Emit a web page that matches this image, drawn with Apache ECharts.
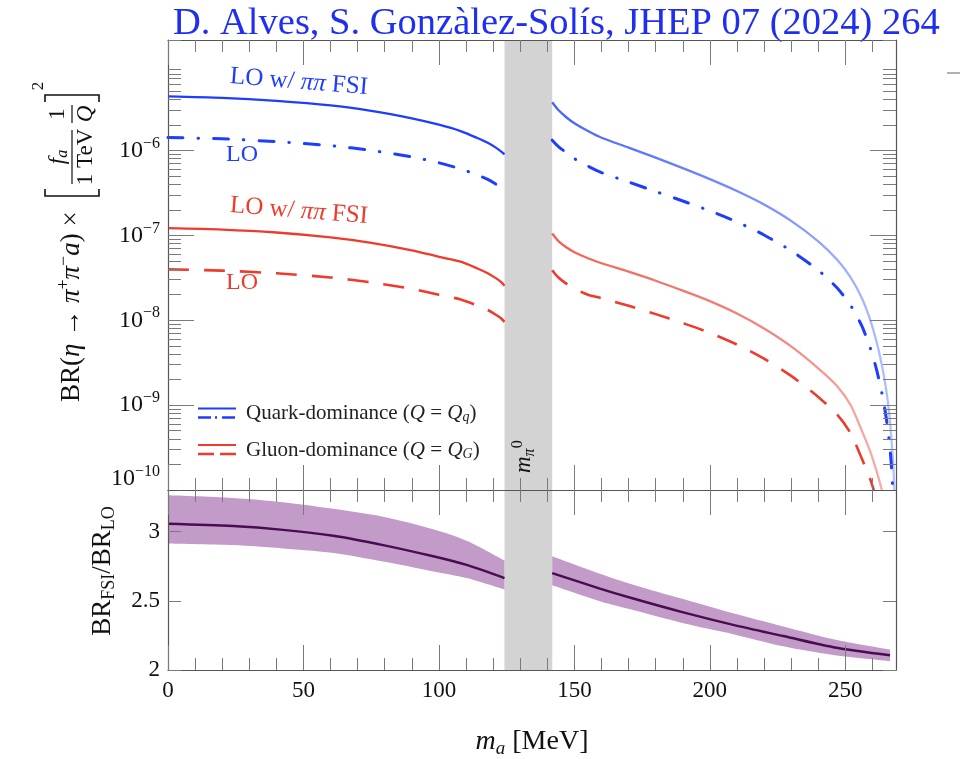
<!DOCTYPE html>
<html><head><meta charset="utf-8">
<script src="https://cdn.jsdelivr.net/npm/echarts@6/dist/echarts.min.js"></script>
<style>html,body{margin:0;padding:0;background:#fff}#c{width:960px;height:759px}</style>
</head><body><div id="c"></div>
<script>
// ---------------- data ----------------
const xMax = 268.7;
const pionBand = [124.2, 141.8];
const xMajorTicks = [0, 50, 100, 150, 200, 250];
const xMinorTicks = [10,20,30,40,60,70,80,90,110,120,130,140,160,170,180,190,210,220,230,240,260];
const brMin = 1e-10, brMax = 2e-5;
const decadeLabels = [-9, -8, -7, -6];
const ratioTicks = [2, 2.5, 3];

const massLeft     = [0, 20, 40, 60, 75, 90, 100, 108, 114, 118, 121, 123, 124.2];
const quarkFsiLeft = [4.34e-6, 4.17e-6, 3.84e-6, 3.40e-6, 2.93e-6, 2.39e-6, 2.01e-6, 1.69e-6, 1.41e-6, 1.23e-6, 1.08e-6, 9.68e-7, 8.98e-7];
const quarkLoLeft  = [1.42e-6, 1.37e-6, 1.27e-6, 1.14e-6, 1.00e-6, 8.39e-7, 7.15e-7, 6.06e-7, 5.16e-7, 4.56e-7, 4.01e-7, 3.62e-7, 3.37e-7];
const gluonFsiLeft = [1.215e-7, 1.17e-7, 1.08e-7, 9.47e-8, 8.17e-8, 6.67e-8, 5.59e-8, 4.89e-8, 4.10e-8, 3.58e-8, 3.13e-8, 2.81e-8, 2.55e-8];
const gluonLoLeft  = [3.97e-8, 3.84e-8, 3.57e-8, 3.19e-8, 2.79e-8, 2.34e-8, 1.99e-8, 1.76e-8, 1.50e-8, 1.32e-8, 1.16e-8, 1.05e-8, 9.58e-9];

const quarkFsiRight = [[141.8,3.69e-6],[144,3.01e-6],[147,2.46e-6],[150,2.09e-6],[155,1.69e-6],[160,1.41e-6],[170,1.08e-6],[180,8.23e-7],[190,6.20e-7],[200,4.60e-7],[210,3.33e-7],[220,2.31e-7],[230,1.48e-7],[240,8.50e-8],[247,5.16e-8],[252,3.17e-8],[256,1.85e-8],[259,1.05e-8],[261.5,5.62e-9],[263.5,2.94e-9],[265,1.58e-9],[266.2,8.03e-10],[267.1,3.67e-10],[267.7,1.97e-10],[268.1,1.0e-10]];
const quarkLoRight = [[141.8,1.32e-6],[144,1.12e-6],[147,9.42e-7],[150,8.01e-7],[155,6.54e-7],[160,5.49e-7],[170,4.25e-7],[180,3.28e-7],[190,2.54e-7],[200,1.94e-7],[210,1.44e-7],[220,1.01e-7],[230,6.58e-8],[240,3.88e-8],[247,2.39e-8],[252,1.49e-8],[256,8.67e-9],[259,4.91e-9],[261.5,2.64e-9],[263.5,1.38e-9],[265,7.41e-10],[266.2,3.77e-10],[266.9,2.14e-10],[267.5,1.0e-10]];
const gluonFsiRight = [[141.8,1.05e-7],[144,8.62e-8],[147,7.23e-8],[150,6.32e-8],[155,5.37e-8],[160,4.69e-8],[170,3.73e-8],[180,2.92e-8],[190,2.23e-8],[200,1.68e-8],[210,1.20e-8],[220,7.99e-9],[230,4.91e-9],[240,2.71e-9],[247,1.67e-9],[252,9.97e-10],[256,5.07e-10],[259,2.95e-10],[261.5,1.68e-10],[263.5,1.0e-10]];
const gluonLoRight = [[141.8,3.88e-8],[144,3.21e-8],[147,2.70e-8],[150,2.36e-8],[155,2.00e-8],[160,1.82e-8],[170,1.48e-8],[180,1.18e-8],[190,9.25e-9],[200,7.10e-9],[210,5.17e-9],[220,3.52e-9],[230,2.21e-9],[240,1.25e-9],[247,7.71e-10],[252,4.64e-10],[256,2.38e-10],[259,1.39e-10],[260.5,1.0e-10]];

const ratioLeftM       = [0, 24, 42.5, 61, 79.4, 97.9, 110.2, 124.2];
const ratioLeftCentral = [3.057, 3.040, 3.012, 2.969, 2.902, 2.821, 2.759, 2.664];
const ratioLeftUpper   = [3.262, 3.243, 3.212, 3.164, 3.107, 3.016, 2.933, 2.790];
const ratioLeftLower   = [2.914, 2.902, 2.878, 2.845, 2.783, 2.712, 2.664, 2.581];
const ratioRightM       = [141.8, 159.4, 171.7, 190.2, 208.6, 227.1, 245.6, 266.5];
const ratioRightCentral = [2.700, 2.588, 2.516, 2.416, 2.326, 2.245, 2.165, 2.107];
const ratioRightUpper   = [2.821, 2.695, 2.616, 2.512, 2.409, 2.314, 2.222, 2.147];
const ratioRightLower   = [2.612, 2.497, 2.433, 2.338, 2.259, 2.171, 2.108, 2.064];

// ---------------- style ----------------
const FONT = '"Liberation Serif","DejaVu Serif",serif';
const BLUE = '#1f3dff', RED = '#ee3b2c', PURPLE_BAND = '#c39bc9', PURPLE_LINE = '#4a0c50';
const AX = {color: '#555', width: 1.2};
const TK = {color: '#7a7a7a', width: 1};

const yMinorLogs = [];
for (let n = -10; n <= -5; n++) for (let k = 2; k <= 9; k++) {
  const v = n + Math.log10(k);
  if (v <= Math.log10(brMax)) yMinorLogs.push(v);
}

function richA(size, color) {
  return {
    r: {fontSize: size, fontFamily: FONT, color},
    i: {fontSize: size, fontFamily: FONT, fontStyle: 'italic', color},
    sup: {fontSize: Math.round(size*0.68), fontFamily: FONT, color, padding: [0,0,Math.round(size*0.6),0]},
    sub: {fontSize: Math.round(size*0.68), fontFamily: FONT, color, padding: [Math.round(size*0.45),0,0,0]},
    isub: {fontSize: Math.round(size*0.68), fontFamily: FONT, fontStyle: 'italic', color, padding: [Math.round(size*0.45),0,0,0]}
  };
}
function richG(size, color) {
  return {
    r: {fontSize: size, fontFamily: FONT, fill: color},
    i: {fontSize: size, fontFamily: FONT, fontStyle: 'italic', fill: color},
    sup: {fontSize: Math.round(size*0.68), fontFamily: FONT, fill: color, padding: [0,0,Math.round(size*0.6),0]},
    sub: {fontSize: Math.round(size*0.68), fontFamily: FONT, fill: color, padding: [Math.round(size*0.45),0,0,0]},
    isub: {fontSize: Math.round(size*0.68), fontFamily: FONT, fontStyle: 'italic', fill: color, padding: [Math.round(size*0.45),0,0,0]}
  };
}

function xAx(grid, pos, ticks, len, line, extra) {
  return Object.assign({
    type: 'value', gridIndex: grid, position: pos, min: 0, max: xMax, z: 10,
    axisLine: {show: line, onZero: false, lineStyle: AX},
    axisTick: {show: true, inside: true, length: len, customValues: ticks, lineStyle: TK},
    axisLabel: {show: false}, splitLine: {show: false}
  }, extra || {});
}
function yLogTicks(pos, ticks, len, line, extra) {
  return Object.assign({
    type: 'value', gridIndex: 0, position: pos, min: -10, max: Math.log10(brMax), z: 10,
    axisLine: {show: line, onZero: false, lineStyle: AX},
    axisTick: {show: len > 0, inside: true, length: len, customValues: ticks, lineStyle: TK},
    axisLabel: {show: false}, splitLine: {show: false}
  }, extra || {});
}
const decadeFmt = v => '{b|10}{s|\u2212' + Math.round(-v) + '}';
const decadeRich = {
  b: {fontSize: 24, fontFamily: FONT, color: '#111'},
  s: {fontSize: 16, fontFamily: FONT, color: '#111', padding: [0,0,14,0]}
};

const xAxes = [
  xAx(0, 'bottom', xMajorTicks, 25, true),
  xAx(0, 'bottom', xMinorTicks, 12, false),
  xAx(0, 'top', xMajorTicks, 25, true),
  xAx(0, 'top', xMinorTicks, 12, false),
  xAx(1, 'bottom', xMajorTicks, 25, true, {
    axisLabel: {show: true, customValues: xMajorTicks, margin: 9, fontSize: 23, fontFamily: FONT, color: '#111'},
    name: '{i|m}{isub|a}{r| [MeV]}', nameLocation: 'middle', nameGap: 56,
    nameTextStyle: {rich: richA(28, '#111')}
  }),
  xAx(1, 'bottom', xMinorTicks, 12, false),
  xAx(1, 'top', xMajorTicks, 25, true),
  xAx(1, 'top', xMinorTicks, 12, false)
];

const yAxes = [
  {type: 'log', logBase: 10, gridIndex: 0, position: 'left', min: brMin, max: brMax, z: 10,
   axisLine: {show: true, onZero: false, lineStyle: AX}, axisTick: {show: false},
   axisLabel: {show: false}, splitLine: {show: false}},
  yLogTicks('left', decadeLabels, 26, false, {
    axisLabel: {show: true, customValues: decadeLabels, margin: 8, formatter: decadeFmt, rich: decadeRich}
  }),
  yLogTicks('left', yMinorLogs, 13, false),
  yLogTicks('right', decadeLabels, 26, true),
  yLogTicks('right', yMinorLogs, 13, false),
  yLogTicks('left', [-10], 0, false, {
    axisLabel: {show: true, customValues: [-10], margin: 8, verticalAlign: 'middle', padding: [0, 0, 22, 0],
      formatter: decadeFmt, rich: decadeRich}
  }),
  {type: 'value', gridIndex: 1, position: 'left', min: 2, max: 3.3, z: 10,
   axisLine: {show: true, onZero: false, lineStyle: AX},
   axisTick: {show: true, inside: true, length: 13, customValues: ratioTicks, lineStyle: TK},
   axisLabel: {show: true, customValues: ratioTicks, margin: 8, fontSize: 23, fontFamily: FONT, color: '#111',
     formatter: v => String(v)},
   splitLine: {show: false},
   name: '{r|BR}{sub|FSI}{r|/BR}{sub|LO}', nameLocation: 'middle', nameRotate: 90, nameGap: 50,
   nameTextStyle: {rich: richA(27, '#111'), padding: [0, 0, 0, 18]}},
  {type: 'value', gridIndex: 1, position: 'right', min: 2, max: 3.3, z: 10,
   axisLine: {show: true, onZero: false, lineStyle: AX},
   axisTick: {show: true, inside: true, length: 13, customValues: ratioTicks, lineStyle: TK},
   axisLabel: {show: false}, splitLine: {show: false}}
];

const pairs = (ms, vs) => ms.map((m, i) => [m, vs[i]]);
function curve(data, color, width, dash, cap) {
  return {
    type: 'line', xAxisIndex: 0, yAxisIndex: 0, data, symbol: 'none', smooth: 0.25,
    silent: true, z: 3,
    lineStyle: {color, width, type: dash || 'solid', cap: cap || 'butt'}
  };
}
const fadeBlue = {type: 'linear', x: 0, y: 0, x2: 1, y2: 0,
  colorStops: [{offset: 0, color: 'rgba(40,70,255,0.85)'}, {offset: 0.7, color: 'rgba(80,110,255,0.72)'}, {offset: 1, color: 'rgba(120,145,255,0.55)'}]};
const fadeRed = {type: 'linear', x: 0, y: 0, x2: 1, y2: 0,
  colorStops: [{offset: 0, color: 'rgba(238,70,55,0.85)'}, {offset: 0.7, color: 'rgba(238,90,80,0.72)'}, {offset: 1, color: 'rgba(240,120,110,0.6)'}]};

const DASHDOT = [15, 15, 0.5, 15];
const DASHED = [21, 15];

// uncertainty band: upper edge filled in purple down to the axis, lower edge masked in white
function ratioSeries(ms, low, up, mid) {
  const base = {type: 'line', xAxisIndex: 4, yAxisIndex: 6, symbol: 'none', smooth: 0.3, silent: true};
  return [
    Object.assign({}, base, {data: pairs(ms, up), z: 2, lineStyle: {width: 0, opacity: 0},
      areaStyle: {color: PURPLE_BAND, opacity: 1, origin: 'start'}}),
    Object.assign({}, base, {data: pairs(ms, low), z: 2, lineStyle: {width: 0, opacity: 0},
      areaStyle: {color: '#ffffff', opacity: 1, origin: 'start'}}),
    Object.assign({}, base, {data: pairs(ms, mid), z: 4, lineStyle: {color: PURPLE_LINE, width: 2.5}})
  ];
}

const bandArea = {silent: true, itemStyle: {color: '#d3d3d3'}, data: [[{xAxis: pionBand[0]}, {xAxis: pionBand[1]}]]};

const series = [
  ...ratioSeries(ratioLeftM, ratioLeftLower, ratioLeftUpper, ratioLeftCentral),
  ...ratioSeries(ratioRightM, ratioRightLower, ratioRightUpper, ratioRightCentral),
  {type: 'line', xAxisIndex: 0, yAxisIndex: 0, data: [], markArea: bandArea, silent: true},
  {type: 'line', xAxisIndex: 4, yAxisIndex: 6, data: [], markArea: bandArea, silent: true},
  curve(pairs(massLeft, quarkFsiLeft), BLUE, 2.3),
  curve(pairs(massLeft, quarkLoLeft), BLUE, 3, DASHDOT, 'round'),
  curve(pairs(massLeft, gluonFsiLeft), RED, 2.3),
  curve(pairs(massLeft, gluonLoLeft), RED, 2.6, DASHED),
  curve(quarkFsiRight, fadeBlue, 2.3),
  curve(quarkLoRight, BLUE, 3, DASHDOT, 'round'),
  curve(gluonFsiRight, fadeRed, 2.3),
  curve(gluonLoRight, RED, 2.6, DASHED)
];

// ---------------- graphics (labels) ----------------
function gtext(x, y, text, size, color, align, valign, rot) {
  return {type: 'text', x, y, rotation: rot || 0, z: 20, silent: true,
    style: {text, rich: richG(size, color), fill: color, fontSize: size, fontFamily: FONT,
      textAlign: align || 'left', textVerticalAlign: valign || 'middle'}};
}
const ylab = {
  type: 'group', x: 72, y: 402, rotation: Math.PI / 2, silent: true, z: 20,
  children: [
    gtext(0, 0, '{r|BR(}{i|\u03b7}{r| \u2192 }{i|\u03c0}{sup|+}{i|\u03c0}{sup|\u2212}{i|a}{r|) \u00d7}', 27, '#111', 'left', 'middle'),
    {type: 'polyline', shape: {points: [[213, -27], [206, -27], [206, 27], [213, 27]]}, style: {stroke: '#111', lineWidth: 1.6, fill: null}},
    gtext(245, -14, '{i|f}{isub|a}', 23, '#111', 'center', 'middle'),
    {type: 'line', shape: {x1: 218, y1: 0, x2: 272, y2: 0}, style: {stroke: '#111', lineWidth: 1.2}},
    gtext(245, 14, '{r|1 TeV}', 23, '#111', 'center', 'middle'),
    gtext(288, -14, '{r|1}', 23, '#111', 'center', 'middle'),
    {type: 'line', shape: {x1: 279, y1: 0, x2: 297, y2: 0}, style: {stroke: '#111', lineWidth: 1.2}},
    gtext(288, 14, '{i|Q}', 23, '#111', 'center', 'middle'),
    {type: 'polyline', shape: {points: [[300, -27], [307, -27], [307, 27], [300, 27]]}, style: {stroke: '#111', lineWidth: 1.6, fill: null}},
    gtext(316, -33, '{r|2}', 17, '#111', 'center', 'middle')
  ]
};

const legend = [
  {type: 'line', shape: {x1: 198, y1: 408.5, x2: 236, y2: 408.5}, style: {stroke: BLUE, lineWidth: 2.2}},
  {type: 'line', shape: {x1: 198, y1: 417.5, x2: 236, y2: 417.5}, style: {stroke: BLUE, lineWidth: 2.6, lineDash: [13, 4, 2, 5], lineCap: 'butt'}},
  {type: 'line', shape: {x1: 198, y1: 445, x2: 236, y2: 445}, style: {stroke: RED, lineWidth: 2.2}},
  {type: 'line', shape: {x1: 198, y1: 454, x2: 236, y2: 454}, style: {stroke: RED, lineWidth: 2.4, lineDash: [16, 6]}},
  gtext(246, 413, '{r|Quark-dominance (}{i|Q}{r| = }{i|Q}{isub|q}{r|)}', 21, '#222', 'left', 'middle'),
  gtext(246, 450, '{r|Gluon-dominance (}{i|Q}{r| = }{i|Q}{isub|G}{r|)}', 21, '#222', 'left', 'middle')
];

const annotations = [
  gtext(299, 82, '{r|LO w/ }{i|\u03c0\u03c0}{r| FSI}', 25, BLUE, 'center', 'middle', -0.08),
  gtext(242, 155, '{r|LO}', 24, BLUE, 'center', 'middle'),
  gtext(299, 211, '{r|LO w/ }{i|\u03c0\u03c0}{r| FSI}', 25, RED, 'center', 'middle', -0.08),
  gtext(242, 283, '{r|LO}', 24, RED, 'center', 'middle'),
  {type: 'line', shape: {x1: 947, y1: 73, x2: 960, y2: 73}, style: {stroke: '#999', lineWidth: 1.5}}
];

const chart = echarts.init(document.getElementById('c'), null, {renderer: 'canvas'});
chart.setOption({
  animation: false,
  backgroundColor: '#fff',
  title: {text: 'D. Alves, S. Gonz\u00e0lez-Sol\u00eds, JHEP 07 (2024) 264', left: 168, top: -1,
    textStyle: {fontFamily: FONT, fontSize: 38.5, fontWeight: 'normal', color: '#1f2ff0'}},
  grid: [
    {left: 168, top: 40, width: 728, height: 450},
    {left: 168, top: 490, width: 728, height: 182}
  ],
  xAxis: xAxes,
  yAxis: yAxes,
  series,
  graphic: [ylab, ...legend, ...annotations]
});
const bx = chart.convertToPixel({xAxisIndex: 0}, (pionBand[0] + pionBand[1]) / 2);
chart.setOption({graphic: [ylab, ...legend, ...annotations,
  gtext(bx + 11, 473, '{i|m}{isub|\u03c0}{sup|0}', 23, '#111', 'left', 'bottom', Math.PI / 2)]});
</script></body></html>
